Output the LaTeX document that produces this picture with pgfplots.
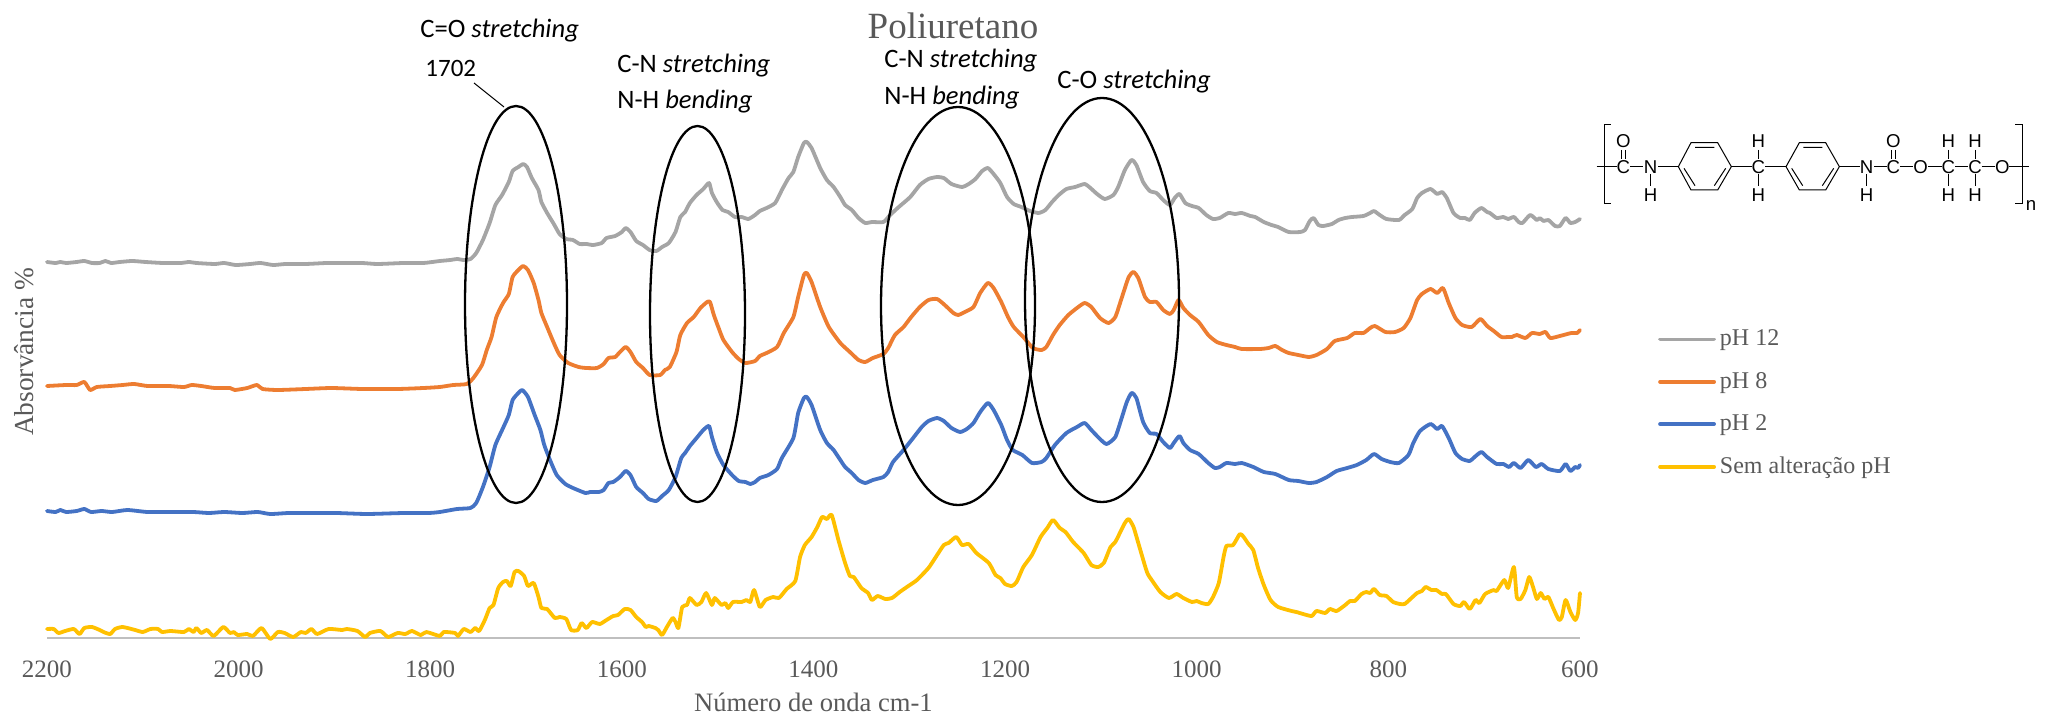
\documentclass[border=0pt]{standalone}
\usepackage{pgfplots}
\pgfplotsset{compat=1.18}
\usepackage{fontspec}
\setmainfont{Liberation Serif}
\newfontfamily\carlito{Carlito}
\newfontfamily\arialf{Liberation Sans}
\definecolor{cgray}{HTML}{A5A5A5}
\definecolor{corange}{HTML}{ED7D31}
\definecolor{cblue}{HTML}{4472C4}
\definecolor{cyellow}{HTML}{FFC000}
\definecolor{ctext}{HTML}{595959}
\definecolor{caxis}{HTML}{BFBFBF}
\newcommand{\ann}[4]{\node[anchor=west,inner sep=0pt,font=\carlito\fontsize{13.3}{15}\selectfont] at (#1,#2) {#3 \textit{#4}};}
\begin{document}
\begin{tikzpicture}[x=0.5pt,y=-0.5pt]
\path (0,0) rectangle (2050,721);
\begin{axis}[
  at={(23.5pt,-319pt)}, anchor=south west,
  scale only axis, width=766.5pt, height=300pt,
  x dir=reverse, xmin=600, xmax=2200, ymin=0, ymax=600,
  clip=false,
  axis x line*=bottom, axis y line*=left,
  y axis line style={draw=none},
  x axis line style={draw=caxis,line width=1pt,-},
  xtick={2200,2000,1800,1600,1400,1200,1000,800,600},
  ytick=\empty,
  major tick length=0pt,
  xticklabel style={font=\fontsize{12.5}{14}\selectfont,text=ctext,yshift=-8pt},
  /pgf/number format/assume math mode=true,
  /pgf/number format/1000 sep={},
  xlabel={Número de onda cm-1},
  xlabel style={font=\fontsize{13.3}{15}\selectfont,text=ctext,at={(axis description cs:0.5,-0.107)},anchor=center},
  ylabel={Absorvância \%},
  ylabel style={font=\fontsize{13.7}{15}\selectfont,text=ctext,at={(axis description cs:-0.0147,0.477)},anchor=center},
  title={Poliuretano},
  title style={font=\fontsize{18.5}{22}\selectfont,text=ctext,at={(axis description cs:0.591,1.0)},anchor=center},
  legend cell align=left,
  legend style={draw=none,fill=none,at={(axis description cs:1.051,0.52)},anchor=north west,inner sep=0pt,outer sep=0pt,row sep=7.7pt,font=\fontsize{12}{14}\selectfont,text=ctext,/tikz/every even column/.style={column sep=0pt}},
  legend image code/.code={\draw[#1] (0pt,0pt)--(27pt,0pt);},
  every axis plot/.append style={line width=1.9pt,line join=round,line cap=round,no markers,smooth,tension=0.35},
]
\addplot[color=cgray] coordinates {
(2200,376)(2191,375)(2186,376)(2180,375)(2169,376)(2161,377)(2153,375)(2145,375)(2139,377)(2133,375)(2124,376)(2111,377)(2097,376)(2079,375)(2060,375)(2052,376)(2044,375)(2025,374)(2015,375)(2003,373)(1988,374)(1977,375)(1964,373)(1951,374)(1930,374)(1908,375)(1887,375)(1871,375)(1855,374)(1828,375)(1807,375)
(1790,377)(1779,378)(1772,379)(1765,378)(1758,379)(1752,385)(1745,398)(1738,415)(1732,433)(1725,443)(1718,456)(1714,467)(1708,471)(1703,474)(1699,471)(1694,460)(1687,448)(1684,436)(1678,425)(1671,414)(1665,404)(1658,399)(1651,398)(1644,394)(1637,394)(1630,393)(1621,395)(1616,400)(1607,402)(1600,406)(1596,410)(1591,406)(1585,397)(1578,393)(1571,388)(1564,387)(1558,391)(1551,395)(1544,406)(1539,421)(1534,426)(1529,435)(1522,443)(1515,449)(1509,455)(1506,445)(1501,436)(1495,428)(1489,426)(1482,421)(1475,421)(1468,419)(1461,423)(1456,427)(1449,430)(1440,435)(1433,448)(1426,460)(1421,466)(1416,481)(1410,495)(1407,496)(1402,490)(1393,470)(1386,458)(1379,451)(1372,441)
(1367,433)(1360,428)(1353,420)(1346,415)(1339,416)(1327,416)(1320,423)(1311,431)(1299,441)(1289,453)(1280,459)(1271,461)(1264,460)(1256,454)(1245,451)(1238,454)(1231,459)(1224,467)(1218,470)(1212,464)(1205,455)(1198,441)(1191,434)(1183,431)(1174,427)(1165,425)(1158,428)(1151,436)(1144,443)(1136,449)(1127,451)(1117,454)(1111,450)(1104,444)(1096,439)(1087,443)(1082,451)(1075,468)(1068,478)(1063,473)(1056,456)(1049,447)(1042,445)(1035,438)(1028,433)(1023,440)(1018,444)(1012,435)(1005,432)(998,430)
(990,423)(983,419)(976,420)(967,425)(960,424)(953,425)(944,422)(939,421)(930,416)(922,413)(915,411)(904,406)(892,406)(887,408)(882,417)(878,420)(873,413)(868,412)(859,414)(852,418)(845,420)(838,421)(826,422)(819,425)(815,427)(809,423)(802,419)(789,418)(783,423)(775,429)(770,440)(765,445)(756,449)(749,444)(744,446)(739,440)(732,425)(725,420)(720,420)(715,418)(710,425)(703,430)(697,426)(694,425)(687,420)(680,421)(675,419)(669,421)(664,416)(660,415)(652,423)(645,418)(642,420)(638,417)(633,418)(626,412)(621,412)(615,420)(610,415)(605,416)(600,419)};
\addlegendentry{pH 12}
\addplot[color=corange] coordinates {
(2200,252)(2180,253)(2169,253)(2161,256)(2155,248)(2148,251)(2134,252)(2121,253)(2109,254)(2095,252)(2073,252)(2057,251)(2049,253)(2039,252)(2025,250)(2009,250)(2004,248)(1991,250)(1981,253)(1975,249)(1959,248)(1930,249)(1903,250)(1871,249)(1834,249)(1807,250)
(1790,251)(1776,253)(1762,254)(1755,260)(1746,273)(1741,288)(1736,301)(1731,321)(1724,335)(1718,344)(1714,361)(1708,368)(1703,372)(1698,368)(1692,355)(1687,338)(1684,325)(1678,311)(1671,295)(1665,283)(1656,275)(1645,271)(1637,270)(1626,270)(1619,274)(1614,280)(1607,281)(1602,286)(1596,291)(1591,286)(1585,276)(1578,270)(1571,263)(1560,263)(1555,268)(1550,271)(1543,286)(1539,303)(1532,315)(1525,321)(1518,330)(1511,336)(1508,336)(1504,323)(1499,310)(1494,298)(1485,286)(1478,279)(1471,275)(1461,277)(1456,282)(1449,285)(1438,291)(1431,305)(1421,321)(1416,341)(1410,363)(1407,365)(1402,356)(1393,331)(1384,311)(1372,295)
(1362,286)(1353,278)(1346,276)(1338,280)(1327,284)(1322,290)(1315,303)(1306,311)(1298,321)(1289,331)(1280,338)(1271,339)(1263,333)(1254,325)(1249,323)(1242,326)(1233,331)(1226,345)(1218,355)(1212,350)(1204,336)(1197,321)(1191,311)(1181,301)(1171,290)(1162,288)(1157,291)(1150,303)(1143,313)(1134,323)(1125,330)(1117,335)(1110,331)(1101,320)(1092,315)(1085,321)(1078,341)(1071,361)(1066,366)(1061,360)(1054,341)(1049,336)(1042,336)(1035,328)(1028,324)(1024,328)(1019,338)(1014,330)(1007,323)(998,316)
(988,303)(979,296)(969,293)(960,291)(953,289)(934,289)(925,290)(918,292)(911,288)(904,285)(894,283)(883,281)(875,283)(864,289)(856,297)(843,300)(835,305)(826,305)(819,310)(814,312)(803,306)(793,306)(784,310)(777,320)(770,338)(765,344)(756,349)(749,345)(743,350)(737,335)(730,320)(723,313)(713,311)(704,319)(697,312)(690,307)(682,301)(675,301)(671,301)(666,303)(657,300)(650,305)(642,304)(636,306)(631,300)(621,302)(609,305)(603,305)(600,308)};
\addlegendentry{pH 8}
\addplot[color=cblue] coordinates {
(2200,127)(2191,126)(2186,128)(2180,126)(2169,127)(2161,129)(2154,126)(2143,127)(2132,126)(2116,128)(2095,126)(2068,126)(2047,126)(2031,125)(2015,126)(1996,125)(1980,126)(1967,124)(1948,125)(1930,125)(1898,125)(1866,124)(1828,125)(1802,125)
(1790,126)(1772,129)(1758,130)(1752,135)(1745,151)(1738,171)(1732,193)(1724,210)(1718,223)(1714,238)(1708,245)(1704,248)(1698,241)(1691,223)(1685,208)(1681,193)(1675,178)(1668,163)(1659,154)(1651,150)(1638,145)(1633,146)(1624,146)(1619,148)(1614,155)(1609,156)(1602,161)(1596,167)(1591,163)(1585,151)(1578,145)(1572,139)(1564,137)(1558,142)(1551,148)(1544,161)(1538,180)(1534,185)(1529,192)(1522,200)(1515,208)(1509,212)(1506,201)(1501,186)(1494,173)(1485,163)(1478,157)(1471,156)(1466,154)(1461,156)(1456,160)(1447,163)(1438,169)(1433,180)(1421,200)(1416,225)(1410,240)(1407,241)(1402,233)(1393,208)(1386,195)(1379,188)(1372,178)
(1367,171)(1360,165)(1353,158)(1346,155)(1338,158)(1327,161)(1322,166)(1317,176)(1306,188)(1296,200)(1287,211)(1280,217)(1271,220)(1264,217)(1256,210)(1247,206)(1240,209)(1233,215)(1226,226)(1218,235)(1212,228)(1204,213)(1198,198)(1192,188)(1182,183)(1172,175)(1162,176)(1157,180)(1148,193)(1136,205)(1125,211)(1117,215)(1110,208)(1101,199)(1094,194)(1085,201)(1078,221)(1073,236)(1068,245)(1063,240)(1056,216)(1049,205)(1042,204)(1035,196)(1028,190)(1024,195)(1018,202)(1014,195)(1007,188)(998,184)
(988,175)(981,170)(976,171)(969,175)(960,174)(953,175)(941,171)(930,166)(918,164)(904,158)(894,157)(883,155)(875,156)(864,161)(854,167)(843,170)(833,173)(823,178)(815,184)(807,179)(798,176)(789,175)(779,183)(774,195)(767,207)(756,214)(749,209)(744,212)(737,200)(730,185)(723,179)(715,177)(710,181)(703,186)(697,181)(687,174)(680,174)(674,171)(669,175)(662,170)(654,178)(646,171)(640,174)(633,169)(621,167)(615,174)(610,167)(605,171)(602,170)(600,173)};
\addlegendentry{pH 2}
\addplot[color=cyellow] coordinates {
(2200,9)(2193,9)(2188,5)(2181,7)(2172,9)(2166,4)(2161,10)(2153,11)(2145,8)(2141,6)(2134,4)(2129,9)(2121,11)(2108,8)(2100,6)(2092,9)(2084,9)(2080,6)(2071,7)(2057,6)(2052,9)(2047,6)(2044,10)(2039,5)(2033,8)(2026,2)(2016,11)(2009,5)(2005,6)(2001,3)(1991,4)(1985,2)(1976,10)(1967,-1)(1959,6)(1952,5)(1943,1)(1935,6)(1930,5)(1924,9)(1918,4)(1906,9)(1892,8)(1887,9)(1876,7)(1868,1)(1863,5)(1852,7)(1844,1)(1834,5)(1826,4)(1819,7)(1810,3)(1804,6)
(1790,2)(1786,6)(1774,5)(1771,2)(1765,9)(1758,6)(1753,10)(1749,7)(1743,18)(1738,30)(1734,33)(1729,50)(1724,56)(1720,57)(1716,52)(1712,66)(1708,67)(1702,62)(1698,52)(1692,55)(1687,41)(1684,30)(1678,29)(1670,20)(1665,21)(1658,19)(1653,8)(1646,8)(1642,15)(1637,10)(1631,16)(1623,14)(1616,18)(1609,22)(1604,23)(1597,29)(1591,28)(1585,21)(1579,16)(1575,11)(1572,12)(1565,10)(1562,8)(1558,3)(1553,11)(1547,20)(1544,16)(1541,10)(1537,31)(1532,33)(1529,40)(1522,33)(1517,36)(1512,45)(1506,33)(1503,40)(1496,33)(1492,35)(1489,30)(1484,36)(1475,36)(1470,38)(1466,36)(1462,48)(1456,31)(1450,38)(1442,41)(1436,40)(1428,49)(1419,57)(1414,81)(1409,93)(1402,101)(1396,111)(1391,121)(1386,119)(1381,123)
(1374,98)(1367,75)(1362,62)(1358,61)(1350,50)(1343,45)(1339,38)(1333,42)(1325,39)(1318,40)(1310,46)(1301,52)(1292,58)(1280,70)(1273,80)(1264,93)(1259,95)(1251,101)(1245,93)(1238,94)(1230,85)(1217,75)(1210,63)(1205,60)(1200,54)(1193,52)(1188,56)(1181,71)(1172,83)(1163,101)(1156,110)(1150,118)(1143,110)(1137,106)(1129,96)(1118,85)(1110,73)(1103,71)(1097,75)(1090,91)(1085,96)(1075,115)(1071,119)(1066,111)(1061,95)(1052,66)(1047,58)(1038,46)(1029,40)(1021,44)(1014,40)(1005,36)(1000,37)(995,35)(988,34)
(983,41)(977,55)(972,81)(969,92)(962,93)(955,104)(951,101)(946,94)(941,88)(936,70)(930,53)(923,38)(915,31)(901,27)(896,26)(889,24)(880,22)(875,27)(866,25)(861,29)(854,27)(845,33)(840,37)(835,37)(828,44)(823,46)(819,45)(815,49)(809,43)(802,42)(795,36)(788,34)(783,34)(777,39)(770,45)(765,47)(761,51)(755,48)(750,48)(744,44)(740,44)(732,34)(725,32)(721,36)(715,29)(709,38)(705,35)(699,44)(690,48)(687,47)(679,58)(675,50)(669,71)(666,41)(662,39)(657,48)(653,61)(649,51)(645,39)(641,45)(637,39)(633,41)(628,30)(622,18)(619,21)(615,38)(610,26)(605,18)(602,25)(600,45)};
\addlegendentry{Sem alteração pH}
\end{axis}
% ellipses and annotations
\draw[black,line width=1.15pt] (516,304.5) ellipse [x radius=51,y radius=198.5];
\draw[black,line width=1.15pt] (697.5,314) ellipse [x radius=47.5,y radius=188];
\draw[black,line width=1.15pt] (958,306) ellipse [x radius=77,y radius=199];
\draw[black,line width=1.15pt] (1102,300) ellipse [x radius=77,y radius=202];
\draw[black,line width=0.5pt] (474,83)--(504,107);
\ann{420}{31}{C=O}{stretching}
\node[anchor=west,inner sep=0pt,font=\carlito\fontsize{12.5}{14}\selectfont] at (425,68) {1702};
\ann{617}{66}{C-N}{stretching}
\ann{617}{102}{N-H}{bending}
\ann{884}{61}{C-N}{stretching}
\ann{884}{98}{N-H}{bending}
\ann{1057}{82}{C-O}{stretching}
% polyurethane repeat unit
\begin{scope}[shift={(1560,100)},x=0.16667pt,y=-0.16667pt,line width=0.5pt,
  every node/.style={inner sep=0pt,font=\arialf\fontsize{9.3}{11}\selectfont}]
\draw (152,75)--(132,75)--(132,310)--(152,310);
\draw (1365,75)--(1387,75)--(1387,310)--(1365,310);
\draw (110,200)--(170,200) (210,200)--(250,200) (295,200)--(355,200);
\draw (514,200)--(575,200) (615,200)--(678,200) (838,200)--(900,200);
\draw (942,200)--(980,200) (1020,200)--(1060,200) (1105,200)--(1145,200) (1185,200)--(1225,200) (1265,200)--(1305,200) (1347,200)--(1407,200);
\draw (355,200)--(393,128)--(473,128)--(514,200)--(473,270)--(393,270)--cycle;
\draw (405,142)--(463,142) (372,205)--(405,257) (497,205)--(463,257);
\draw (678,200)--(718,128)--(797,128)--(838,200)--(797,270)--(718,270)--cycle;
\draw (730,142)--(787,142) (695,205)--(728,257) (821,205)--(787,257);
\draw (185,150)--(185,178) (197,150)--(197,178) (994,150)--(994,178) (1006,150)--(1006,178);
\draw (272,222)--(272,258) (595,150)--(595,178) (595,222)--(595,258) (920,222)--(920,258);
\draw (1165,150)--(1165,178) (1165,222)--(1165,258) (1245,150)--(1245,178) (1245,222)--(1245,258);
\node at (190,122) {O}; \node at (190,202) {C}; \node at (272,202) {N}; \node at (272,286) {H};
\node at (595,122) {H}; \node at (595,202) {C}; \node at (595,286) {H};
\node at (920,202) {N}; \node at (920,286) {H};
\node at (1000,122) {O}; \node at (1000,202) {C}; \node at (1082,202) {O};
\node at (1165,122) {H}; \node at (1165,202) {C}; \node at (1165,286) {H};
\node at (1245,122) {H}; \node at (1245,202) {C}; \node at (1245,286) {H};
\node at (1327,202) {O}; \node at (1413,315) {n};
\end{scope}
\end{tikzpicture}
\end{document}
